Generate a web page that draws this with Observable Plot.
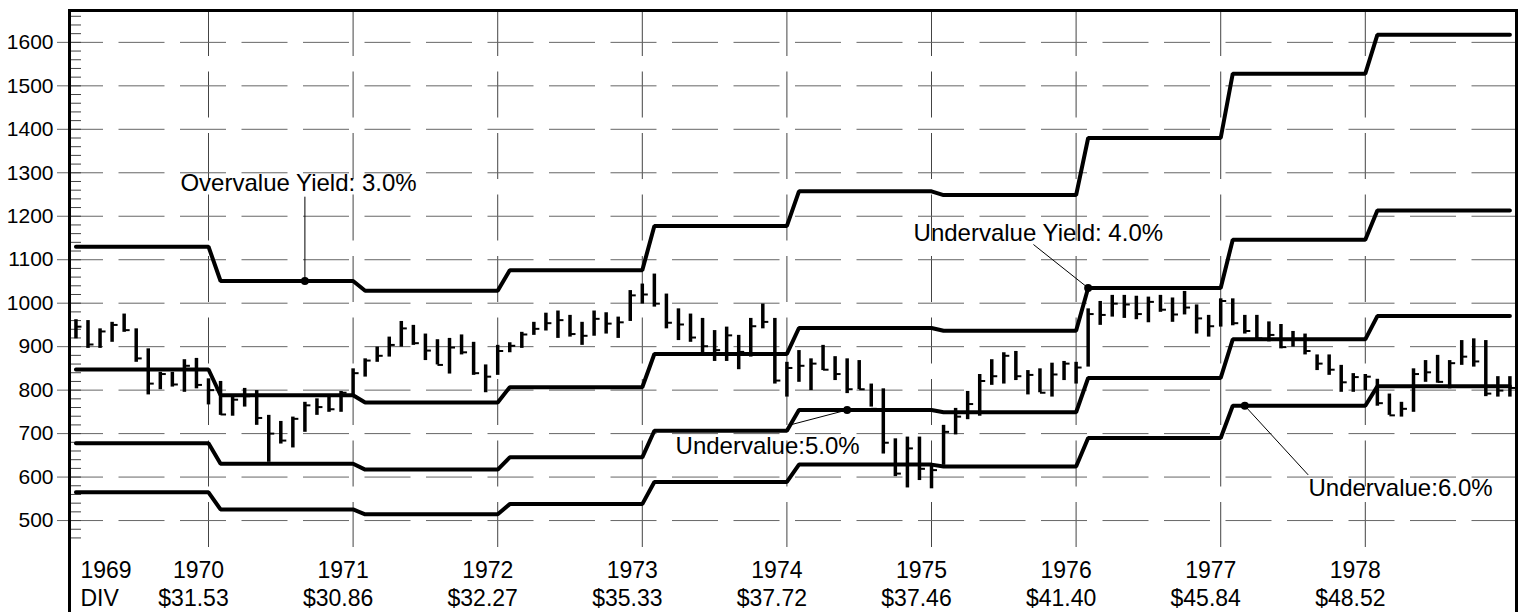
<!DOCTYPE html>
<html><head><meta charset="utf-8">
<script src="https://cdn.jsdelivr.net/npm/d3@7"></script>
<script src="https://cdn.jsdelivr.net/npm/@observablehq/plot@0.6"></script>
<style>html,body{margin:0;padding:0;background:#fff;overflow:hidden}</style>
</head><body><div id="chart"></div>
<script>
// ---------- data ----------
const years = [1969, 1970, 1971, 1972, 1973, 1974, 1975, 1976, 1977, 1978];
const dividends = [33.90, 31.53, 30.86, 32.27, 35.33, 37.72, 37.46, 41.40, 45.84, 48.52];
const yearLabels = ["1969", "1970", "1971", "1972", "1973", "1974", "1975", "1976", "1977", "1978"];
const divLabels = ["DIV", "$31.53", "$30.86", "$32.27", "$35.33", "$37.72", "$37.46", "$41.40", "$45.84", "$48.52"];
const yieldLevels = [0.03, 0.04, 0.05, 0.06];
const yTicks = [500, 600, 700, 800, 900, 1000, 1100, 1200, 1300, 1400, 1500, 1600];
const minorTicks = d3.range(460, 1661, 20);
const gridYears = [1970, 1971, 1972, 1973, 1974, 1975, 1976, 1977, 1978];

// monthly high / low / close, Jan 1969 .. Dec 1978
const high = [
  962, 960, 941, 956, 975, 941, 895, 841, 841, 870, 873, 826,
  820, 788, 804, 799, 742, 728, 738, 772, 780, 784, 797, 849,
  872, 899, 922, 958, 949, 929, 916, 919, 927, 910, 858, 903,
  909, 933, 956, 977, 982, 972, 956, 982, 978, 968, 1029, 1044,
  1067, 1021, 987, 975, 965, 937, 945, 926, 965, 998, 965, 864,
  891, 872, 903, 877, 872, 868, 814, 803, 688, 692, 692, 627,
  719, 758, 797, 836, 870, 886, 889, 845, 849, 862, 866, 864,
  987, 1004, 1018, 1018, 1016, 1014, 1018, 1012, 1027, 996, 972, 1010,
  1010, 972, 972, 957, 951, 935, 929, 881, 881, 857, 838, 836,
  825, 791, 772, 849, 868, 880, 868, 914, 918, 914, 831, 831
];
const low = [
  918, 896, 896, 910, 933, 864, 789, 801, 807, 795, 803, 766,
  742, 740, 761, 719, 634, 676, 667, 703, 742, 749, 749, 784,
  830, 864, 876, 899, 903, 868, 858, 837, 881, 834, 794, 834,
  886, 896, 926, 936, 919, 922, 903, 924, 929, 919, 958, 998,
  991, 941, 914, 910, 878, 866, 866, 847, 876, 941, 814, 784,
  818, 799, 845, 822, 792, 801, 761, 653, 601, 575, 592, 573,
  627, 697, 732, 740, 811, 814, 822, 789, 794, 784, 822, 814,
  853, 949, 968, 965, 962, 955, 979, 956, 973, 929, 922, 945,
  948, 929, 914, 911, 895, 899, 881, 845, 834, 795, 795, 799,
  763, 742, 738, 749, 818, 816, 803, 857, 853, 785, 784, 784
];
const close = [
  946, 905, 935, 950, 938, 873, 815, 837, 813, 856, 812, 800,
  744, 778, 786, 736, 700, 684, 734, 765, 761, 756, 794, 839,
  868, 879, 904, 942, 908, 891, 858, 898, 887, 839, 831, 890,
  902, 928, 941, 954, 961, 929, 925, 964, 953, 956, 1018, 1020,
  999, 955, 951, 921, 901, 892, 926, 888, 947, 957, 822, 851,
  856, 861, 847, 837, 802, 802, 757, 679, 608, 666, 619, 616,
  704, 739, 768, 821, 832, 879, 832, 835, 794, 836, 861, 852,
  975, 973, 999, 997, 975, 1003, 985, 974, 990, 965, 947, 1005,
  954, 936, 919, 927, 899, 916, 890, 861, 847, 818, 830, 831,
  770, 742, 757, 837, 841, 819, 862, 877, 866, 792, 799, 805
];

// annotations: target date on a yield band, label anchor and leader start
const annotations = [
  {label: "Overvalue Yield: 3.0%", yld: 0.03, date: 1970 + 8 / 12, labelX: 1969.806, labelY: 1257, leadX: 1970 + 8 / 12, leadY: 1245},
  {label: "Undervalue Yield: 4.0%", yld: 0.04, date: 1976 + 1 / 12, labelX: 1974.876, labelY: 1144, leadX: 1975.705, leadY: 1135},
  {label: "Undervalue:5.0%", yld: 0.05, date: 1974 + 5 / 12, labelX: 1973.23, labelY: 653, leadX: 1974.011, leadY: 719},
  {label: "Undervalue:6.0%", yld: 0.06, date: 1977 + 2 / 12, labelX: 1977.607, labelY: 557, leadX: 1977.605, leadY: 605}
];

// ---------- derived tables ----------
const prices = high.map((h, i) => ({
  t: years[0] + Math.floor(i / 12) + ((i % 12) + 1) / 12,
  high: h, low: low[i], close: close[i]
}));
const bands = [];
for (const y of yieldLevels) {
  years.forEach((yr, i) => {
    for (let m = 1; m <= 12; m++) bands.push({t: yr + m / 12, v: dividends[i] / y, yld: y});
  });
}
const divOf = (date) => dividends[years.indexOf(Math.floor(date - 1e-9))];
const annRows = annotations.map(a => ({...a, v: divOf(a.date) / a.yld}));
const labelRows = years.map((y, i) => ({t: y, year: yearLabels[i], div: divLabels[i]}));

const tickRight = {draw(ctx, size) { const l = Math.sqrt(size / Math.PI); ctx.moveTo(0, 0); ctx.lineTo(l, 0); }};
const font = "'Liberation Sans', Arial, Helvetica, sans-serif";

const chart = Plot.plot({
  width: 1527, height: 612,
  marginLeft: 69, marginRight: 11, marginTop: 10, marginBottom: 65,
  x: {domain: [1969.0387, 1979.0456], axis: null},
  y: {domain: [438, 1673.3], axis: null},
  style: {fontFamily: font, background: "white", color: "black"},
  marks: [
    Plot.ruleX(gridYears, {x: d => d, stroke: "#444", strokeWidth: 1, strokeDasharray: "46,15.5"}),
    Plot.ruleY(yTicks, {y: d => d, stroke: "#666", strokeWidth: 1, insetLeft: -12, strokeDasharray: "46,15.5"}),
    Plot.tickY(minorTicks, {y: d => d, stroke: "#444", strokeWidth: 1, insetRight: 1435}),
    Plot.text(yTicks, {y: d => d, text: d => String(d), frameAnchor: "left", textAnchor: "end", dx: -16, fontSize: 21, fill: "black"}),
    Plot.text(labelRows.slice(1), {x: "t", text: "year", frameAnchor: "bottom", lineAnchor: "bottom", dx: -10, dy: 30, fontSize: 23, fill: "black"}),
    Plot.text(labelRows.slice(1), {x: "t", text: "div", frameAnchor: "bottom", lineAnchor: "bottom", dx: -15, dy: 58, fontSize: 23, fill: "black"}),
    Plot.text(labelRows.slice(0, 1), {text: "year", frameAnchor: "bottom-left", textAnchor: "start", lineAnchor: "bottom", dx: 11, dy: 30, fontSize: 23, fill: "black"}),
    Plot.text(labelRows.slice(0, 1), {text: "div", frameAnchor: "bottom-left", textAnchor: "start", lineAnchor: "bottom", dx: 11, dy: 58, fontSize: 23, fill: "black"}),
    Plot.line(bands, {x: "t", y: "v", z: "yld", stroke: "black", strokeWidth: 4, strokeLinejoin: "miter", strokeLinecap: "round"}),
    Plot.ruleX(prices, {x: "t", y1: "low", y2: "high", stroke: "black", strokeWidth: 3.5}),
    Plot.dot(prices, {x: "t", y: "close", symbol: tickRight, r: 5.5, stroke: "black", strokeWidth: 2, fill: "none"}),
    Plot.link(annRows, {x1: "leadX", y1: "leadY", x2: "date", y2: "v", stroke: "black", strokeWidth: 1}),
    Plot.dot(annRows, {x: "date", y: "v", r: 4, fill: "black", stroke: "none"}),
    Plot.text(annRows, {x: "labelX", y: "labelY", text: "label", textAnchor: "start", lineAnchor: "bottom", fontSize: 24, fill: "black"}),
    Plot.frame({stroke: "black", strokeWidth: 3, insetBottom: -80})
  ]
});
document.getElementById("chart").appendChild(chart);
</script>
</body></html>
